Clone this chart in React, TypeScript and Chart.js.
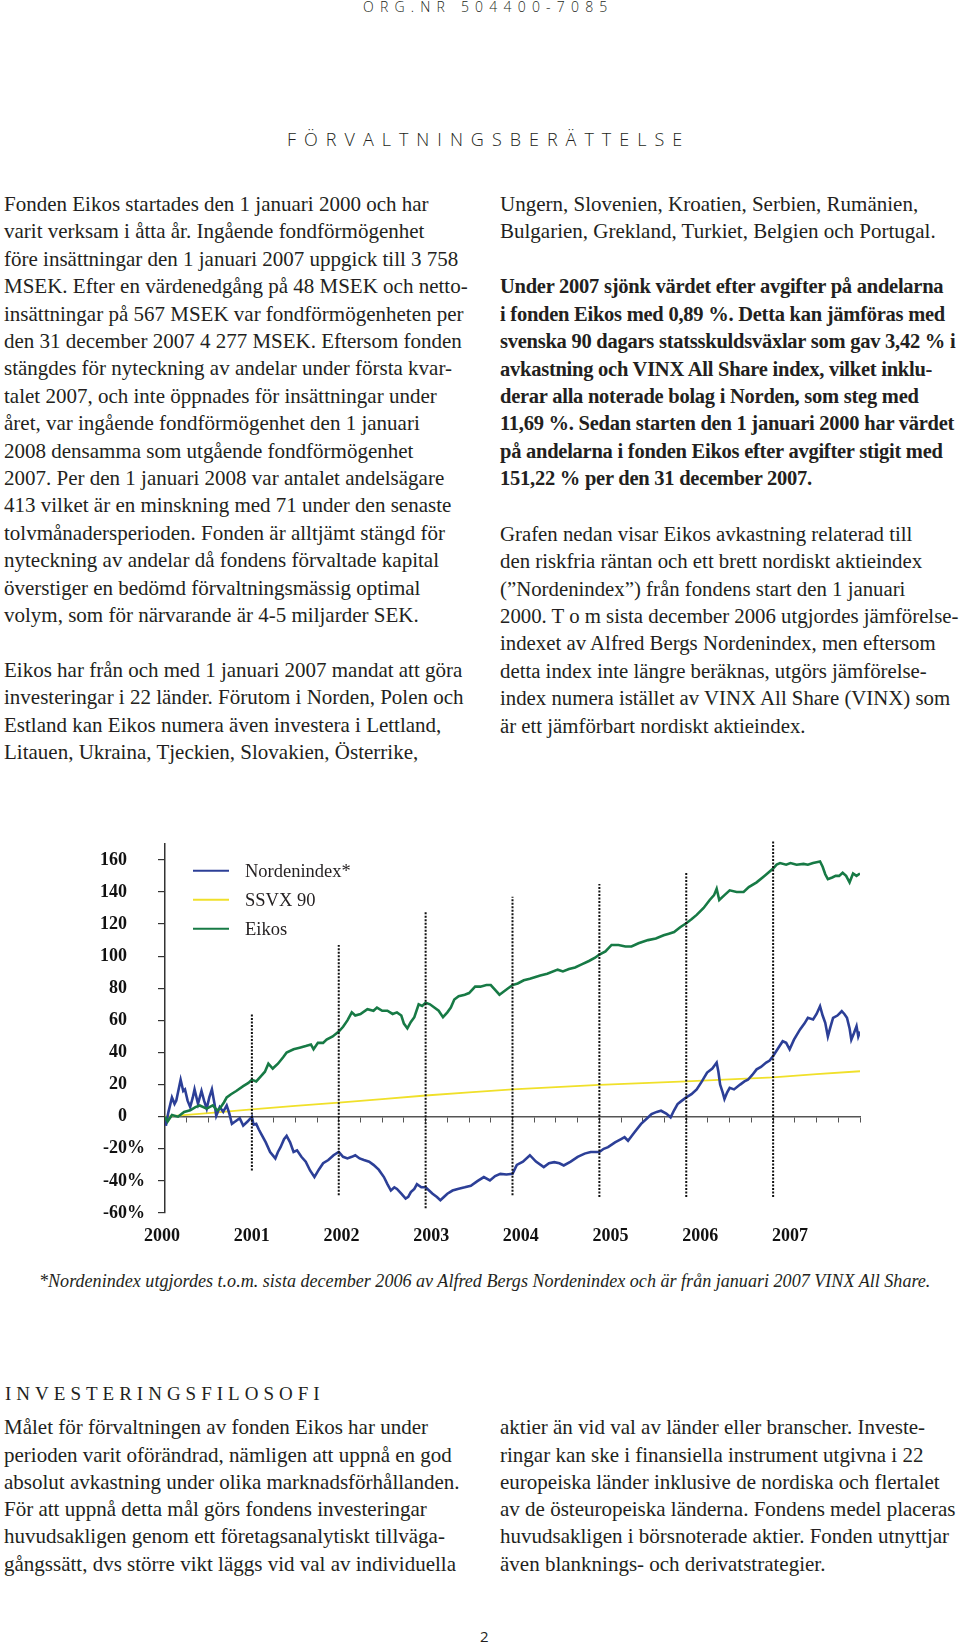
import React, { useEffect, useRef } from "react";
import { Chart, registerables } from "chart.js";

Chart.register(...registerables);

// ---------- chart data ----------
const eikosT = [2000.00, 2000.03, 2000.08, 2000.15, 2000.22, 2000.29, 2000.35, 2000.40, 2000.48, 2000.55, 2000.60, 2000.63, 2000.68, 2000.71, 2000.76, 2000.82, 2000.90, 2000.96,
  2001.00, 2001.05, 2001.10, 2001.15, 2001.19, 2001.24, 2001.30, 2001.36, 2001.40, 2001.48, 2001.55, 2001.62, 2001.68, 2001.71, 2001.76, 2001.82, 2001.86, 2001.93,
  2002.00, 2002.05, 2002.10, 2002.15, 2002.19, 2002.25, 2002.33, 2002.40, 2002.44, 2002.50, 2002.56, 2002.62, 2002.67, 2002.72, 2002.75, 2002.79, 2002.83, 2002.87, 2002.92, 2002.96,
  2003.00, 2003.05, 2003.10, 2003.15, 2003.20, 2003.25, 2003.29, 2003.33, 2003.38, 2003.45, 2003.50, 2003.57, 2003.63, 2003.70, 2003.75, 2003.80, 2003.85, 2003.90, 2003.95,
  2004.00, 2004.06, 2004.13, 2004.20, 2004.32, 2004.40, 2004.52, 2004.58, 2004.65, 2004.72, 2004.79, 2004.88, 2004.95,
  2005.00, 2005.07, 2005.14, 2005.22, 2005.30, 2005.37, 2005.45, 2005.56, 2005.65, 2005.74, 2005.80, 2005.86, 2005.93,
  2006.00, 2006.06, 2006.12, 2006.20, 2006.27, 2006.32, 2006.35, 2006.38, 2006.44, 2006.50, 2006.58, 2006.66, 2006.72, 2006.81, 2006.90,
  2007.00, 2007.04, 2007.08, 2007.15, 2007.20, 2007.27, 2007.35, 2007.40, 2007.46, 2007.50, 2007.54, 2007.57, 2007.60, 2007.63, 2007.68, 2007.72, 2007.76, 2007.80, 2007.84, 2007.88, 2007.92, 2007.96, 2008.00];
const eikosV = [0, -3, 1, 0, 3, 4, 6, 7, 5, 7, 4, 5, 9, 12, 14, 16, 19, 21,
  23, 22, 25, 28, 33, 30, 33, 37, 40, 42, 43, 44, 45, 42, 46, 46, 48, 50,
  53, 56, 60, 65, 63, 64, 67, 66, 68, 66, 66, 64, 65, 63, 58, 55, 59, 62, 70, 69,
  71, 70, 68, 66, 62, 65, 68, 73, 75, 76, 77, 81, 81, 82, 82, 79, 76, 78, 80,
  82, 83, 85, 86, 88, 89, 91.6, 90.5, 92, 93, 94.7, 97, 99,
  101, 103, 107, 107, 106, 106, 108, 110, 111, 113, 114, 115, 118,
  120.5, 123, 125.7, 130, 135, 138, 142, 135, 138, 141, 140, 140, 143, 146, 150,
  154.6, 157, 158, 157, 158, 157, 157.5, 157, 158, 158.5, 159, 155.7, 151, 148, 149, 150, 150, 152, 150, 146, 151.5, 150, 151.5];

const nordT = [2000.00, 2000.01, 2000.04, 2000.08, 2000.11, 2000.13, 2000.18, 2000.21, 2000.23, 2000.26, 2000.29, 2000.32, 2000.34, 2000.38, 2000.42, 2000.45, 2000.48, 2000.51, 2000.54, 2000.57, 2000.59, 2000.63, 2000.67, 2000.71, 2000.74, 2000.77, 2000.82, 2000.86, 2000.90, 2000.95,
  2001.00, 2001.02, 2001.05, 2001.08, 2001.11, 2001.16, 2001.21, 2001.27, 2001.30, 2001.33, 2001.37, 2001.40, 2001.44, 2001.48, 2001.52, 2001.57, 2001.62, 2001.67, 2001.72, 2001.77, 2001.82, 2001.88, 2001.94,
  2002.00, 2002.05, 2002.10, 2002.15, 2002.19, 2002.24, 2002.29, 2002.35, 2002.40, 2002.46, 2002.52, 2002.56, 2002.60, 2002.64, 2002.67, 2002.72, 2002.77, 2002.80, 2002.83, 2002.87, 2002.90, 2002.95,
  2003.00, 2003.04, 2003.08, 2003.13, 2003.17, 2003.21, 2003.25, 2003.31, 2003.37, 2003.45, 2003.52, 2003.60, 2003.67, 2003.74, 2003.80, 2003.86, 2003.93,
  2004.00, 2004.05, 2004.12, 2004.20, 2004.27, 2004.36, 2004.42, 2004.48, 2004.54, 2004.59, 2004.67, 2004.75, 2004.83, 2004.90,
  2005.00, 2005.05, 2005.10, 2005.18, 2005.25, 2005.29, 2005.33, 2005.40, 2005.48, 2005.55, 2005.60, 2005.66, 2005.71, 2005.77, 2005.82, 2005.86, 2005.90, 2005.95,
  2006.00, 2006.06, 2006.12, 2006.18, 2006.24, 2006.30, 2006.35, 2006.37, 2006.39, 2006.42, 2006.44, 2006.47, 2006.50, 2006.55, 2006.62, 2006.67, 2006.71, 2006.76, 2006.81, 2006.86, 2006.92, 2006.96,
  2007.00, 2007.05, 2007.11, 2007.15, 2007.19, 2007.24, 2007.31, 2007.36, 2007.40, 2007.46, 2007.50, 2007.54, 2007.57, 2007.60, 2007.63, 2007.66, 2007.69, 2007.74, 2007.79, 2007.82, 2007.85, 2007.88, 2007.90, 2007.93, 2007.96, 2007.98, 2008.00];
const nordV = [0, -5.6, 3, 12, 8, 10, 23, 16, 17, 10, 6, 12, 17, 8, 16, 10, 5, 12, 17, 8, 0.6, 6, 3, 7, 2, -4.5, -2.5, -1, -5.6, -3,
  0, -5, -4.5, -8, -11, -16, -22, -26, -22, -19, -14, -12, -16, -22, -21, -25, -28, -33.5, -37.6, -33, -29, -27, -24,
  -22, -25, -26, -25, -24, -26, -27, -28, -30, -33, -37.6, -42, -46, -44, -45, -48, -51, -50, -47, -45, -42, -44,
  -44, -46, -48, -50, -52, -50, -48, -46, -45, -44, -43, -40, -37.6, -39.7, -37, -35.6, -36,
  -35.6, -30, -28, -24, -28, -31.4, -29, -28.3, -29, -30.4, -28, -25, -23, -22,
  -22, -20, -19, -16, -14, -12.8, -15, -10, -4.5, -1, 1.6, 3, 3.7, 2, -0.4, 4, 7.9, 10,
  12, 14, 17, 22, 27.5, 30, 33.7, 28, 20, 15, 11, 15, 18, 17, 20, 22, 23, 26, 29.5, 31, 33.7, 35,
  37.8, 42, 47, 46, 42, 48, 54.4, 58, 61.6, 60.6, 64, 68.8, 63, 58.5, 50, 56, 61.6, 63, 65.7, 64, 61.6, 55, 48, 52, 56.4, 50, 53];

const ssvxT = [2000.0, 2000.5, 2001.0, 2001.5, 2002.0, 2002.5, 2003.0, 2003.5, 2004.0, 2004.5, 2005.0, 2005.5, 2006.0, 2006.5, 2007.0, 2007.5, 2008.0];
const ssvxV = [0, 2.2, 4.5, 6.7, 8.8, 11, 13.2, 15.2, 17, 18.4, 19.8, 20.9, 22, 23.2, 24.5, 26.5, 28.3];

const yearMarkers = [2001, 2002, 2003, 2004, 2005, 2006, 2007];
const markerTop = [64.5, 107, 128, 137, 145, 152.5, 172];
const markerBottom = [-33.5, -49, -57, -49, -50, -50, -50];

const yearLabels = [2000, 2001, 2002, 2003, 2004, 2005, 2006, 2007];
const yTicks = [160, 140, 120, 100, 80, 60, 40, 20, 0, -20, -40, -60];
const quarterTicks = [2000, 2000.25, 2000.5, 2000.75, 2001, 2001.25, 2001.5, 2001.75, 2002, 2002.25, 2002.5, 2002.75, 2003, 2003.25, 2003.5, 2003.75,
  2004, 2004.25, 2004.5, 2004.75, 2005, 2005.25, 2005.5, 2005.75, 2006, 2006.25, 2006.5, 2006.75, 2007, 2007.25, 2007.5, 2007.75, 2008];

const seriesNames = ["Nordenindex*", "SSVX 90", "Eikos"];
const seriesColors = ["#2c3f97", "#f0e02a", "#177a45"];

// ---------- page text ----------
const leftPara1 = [
  "Fonden Eikos startades den 1 januari 2000 och har",
  "varit verksam i åtta år. Ingående fondförmögenhet",
  "före insättningar den 1 januari 2007 uppgick till 3 758",
  "MSEK. Efter en värdenedgång på 48 MSEK och netto-",
  "insättningar på 567 MSEK var fondförmögenheten per",
  "den 31 december 2007 4 277 MSEK. Eftersom fonden",
  "stängdes för nyteckning av andelar under första kvar-",
  "talet 2007, och inte öppnades för insättningar under",
  "året, var ingående fondförmögenhet den 1 januari",
  "2008 densamma som utgående fondförmögenhet",
  "2007. Per den 1 januari 2008 var antalet andelsägare",
  "413 vilket är en minskning med 71 under den senaste",
  "tolvmånadersperioden. Fonden är alltjämt stängd för",
  "nyteckning av andelar då fondens förvaltade kapital",
  "överstiger en bedömd förvaltningsmässig optimal",
  "volym, som för närvarande är 4-5 miljarder SEK.",
];
const leftPara2 = [
  "Eikos har från och med 1 januari 2007 mandat att göra",
  "investeringar i 22 länder. Förutom i Norden, Polen och",
  "Estland kan Eikos numera även investera i Lettland,",
  "Litauen, Ukraina, Tjeckien, Slovakien, Österrike,",
];
const rightPara1 = [
  "Ungern, Slovenien, Kroatien, Serbien, Rumänien,",
  "Bulgarien, Grekland, Turkiet, Belgien och Portugal.",
];
const rightBold = [
  "Under 2007 sjönk värdet efter avgifter på andelarna",
  "i fonden Eikos med 0,89 %. Detta kan jämföras med",
  "svenska 90 dagars statsskuldsväxlar som gav 3,42 % i",
  "avkastning och VINX All Share index, vilket inklu-",
  "derar alla noterade bolag i Norden, som steg med",
  "11,69 %. Sedan starten den 1 januari 2000 har värdet",
  "på andelarna i fonden Eikos efter avgifter stigit med",
  "151,22 % per den 31 december 2007.",
];
const rightPara3 = [
  "Grafen nedan visar Eikos avkastning relaterad till",
  "den riskfria räntan och ett brett nordiskt aktieindex",
  "(”Nordenindex”) från fondens start den 1 januari",
  "2000. T o m sista december 2006 utgjordes jämförelse-",
  "indexet av Alfred Bergs Nordenindex, men eftersom",
  "detta index inte längre beräknas, utgörs jämförelse-",
  "index numera istället av VINX All Share (VINX) som",
  "är ett jämförbart nordiskt aktieindex.",
];
const footnote = "*Nordenindex utgjordes t.o.m. sista december 2006 av Alfred Bergs Nordenindex och är från januari 2007 VINX All Share.";
const bottomLeft = [
  "Målet för förvaltningen av fonden Eikos har under",
  "perioden varit oförändrad, nämligen att uppnå en god",
  "absolut avkastning under olika marknadsförhållanden.",
  "För att uppnå detta mål görs fondens investeringar",
  "huvudsakligen genom ett företagsanalytiskt tillväga-",
  "gångssätt, dvs större vikt läggs vid val av individuella",
];
const bottomRight = [
  "aktier än vid val av länder eller branscher. Investe-",
  "ringar kan ske i finansiella instrument utgivna i 22",
  "europeiska länder inklusive de nordiska och flertalet",
  "av de östeuropeiska länderna. Fondens medel placeras",
  "huvudsakligen i börsnoterade aktier. Fonden utnyttjar",
  "även blanknings- och derivatstrategier.",
];

const SERIF = '"Liberation Serif", "Times New Roman", serif';
const SANS = '"Open Sans", "Noto Sans", sans-serif';
const TEXT = "#231f20";

function topFor(baseline: number, size: number, lh: number) {
  return baseline - ((lh - 1.107 * size) / 2 + 0.891 * size);
}

function Lines(props: { x: number; baseline: number; lines: string[]; size?: number; lh?: number; bold?: boolean; italic?: boolean; spacing?: number }) {
  const size = props.size ?? 21;
  const lh = props.lh ?? 27.4;
  return (
    <div
      style={{
        position: "absolute",
        left: props.x,
        top: topFor(props.baseline, size, lh),
        fontFamily: SERIF,
        fontSize: size,
        lineHeight: `${lh}px`,
        fontWeight: props.bold ? 700 : 400,
        fontStyle: props.italic ? "italic" : "normal",
        letterSpacing: props.spacing ?? 0,
        whiteSpace: "pre",
        color: TEXT,
      }}
    >
      {props.lines.map((l, i) => (
        <div key={i}>{l}</div>
      ))}
    </div>
  );
}

const legendPlugin = {
  id: "customLegend",
  afterDraw(chart: any) {
    const { ctx, chartArea } = chart;
    ctx.save();
    seriesNames.forEach((name, i) => {
      const y = chartArea.top + 27 + i * 29;
      ctx.strokeStyle = seriesColors[i];
      ctx.lineWidth = 2;
      ctx.beginPath();
      ctx.moveTo(chartArea.left + 28, y);
      ctx.lineTo(chartArea.left + 64, y);
      ctx.stroke();
      ctx.fillStyle = "#231f20";
      ctx.font = '18.5px "Liberation Serif"';
      ctx.textBaseline = "middle";
      ctx.textAlign = "left";
      ctx.fillText(name, chartArea.left + 80, y + 1);
    });
    ctx.restore();
  },
};

function EikosChart() {
  const ref = useRef<HTMLCanvasElement>(null);
  useEffect(() => {
    if (!ref.current) return;
    const toPts = (t: number[], v: number[]) => t.map((x, i) => ({ x, y: v[i] }));
    const markerSets = yearMarkers.map((yr, i) => ({
      label: "m" + yr,
      data: [{ x: yr, y: markerBottom[i] }, { x: yr, y: markerTop[i] }],
      borderColor: "#111",
      borderWidth: 2,
      borderDash: [2, 1.5],
      pointRadius: 0,
      clip: false,
      xAxisID: "x",
      yAxisID: "y",
    }));
    const chart = new Chart(ref.current, {
      type: "line",
      data: {
        datasets: [
          ...markerSets,
          { label: seriesNames[2], data: toPts(eikosT, eikosV), borderColor: seriesColors[2], borderWidth: 2.6, pointRadius: 0, tension: 0, xAxisID: "x", yAxisID: "y" },
          { label: seriesNames[0], data: toPts(nordT, nordV), borderColor: seriesColors[0], borderWidth: 2.6, pointRadius: 0, tension: 0, xAxisID: "x", yAxisID: "y" },
          { label: seriesNames[1], data: toPts(ssvxT, ssvxV), borderColor: seriesColors[1], borderWidth: 1.8, pointRadius: 0, tension: 0, xAxisID: "x", yAxisID: "y" },
        ] as any,
      },
      options: {
        animation: false,
        responsive: false,
        events: [],
        layout: { padding: { top: 22, right: 100, bottom: 17, left: 0 } },
        plugins: { legend: { display: false }, tooltip: { enabled: false } },
        scales: {
          x: {
            type: "linear",
            min: 2000,
            max: 2008,
            position: { y: 0 } as any,
            afterBuildTicks: (s: any) => { s.ticks = quarterTicks.map((v) => ({ value: v })); },
            ticks: { display: false },
            grid: { display: true, drawOnChartArea: false, drawTicks: true, tickLength: 5, color: "#555", lineWidth: 1 },
            border: { display: true, color: "#555", width: 1.5 },
          },
          x2: {
            type: "linear",
            position: "bottom",
            min: 2000.0334,
            max: 2007.7805,
            afterBuildTicks: (s: any) => { s.ticks = yearLabels.map((v) => ({ value: v })); },
            afterFit: (s: any) => { s.height = 40; },
            ticks: {
              autoSkip: false,
              maxRotation: 0,
              padding: 5,
              color: "#111",
              font: { family: "Liberation Serif", size: 18, weight: "bold" },
              callback: (v: any) => String(v),
            },
            grid: { display: false },
            border: { display: false },
          },
          y: {
            type: "linear",
            position: "left",
            min: -60,
            max: 170,
            afterBuildTicks: (s: any) => { s.ticks = yTicks.map((v) => ({ value: v })); },
            afterFit: (s: any) => { s.width = 165; },
            ticks: {
              padding: 13,
              color: "#111",
              font: { family: "Liberation Serif", size: 18, weight: "bold" },
              callback: (v: any) => (v < 0 ? `${v}%` : `${v}\u2003`),
            },
            grid: { display: true, drawOnChartArea: false, drawTicks: true, tickLength: 7, color: "#333", lineWidth: 1.2 },
            border: { display: true, color: "#333", width: 1.5 },
          },
        },
      } as any,
      plugins: [legendPlugin],
    });
    return () => chart.destroy();
  }, []);
  return (
    <canvas
      ref={ref}
      width={960}
      height={450}
      style={{ position: "absolute", left: 0, top: 820, width: 960, height: 450, display: "block" }}
    />
  );
}

export default function App() {
  const base = 211.7;
  const step = 27.4;
  return (
    <div style={{ position: "absolute", left: 0, top: 0, width: 960, height: 1647, background: "#fff", overflow: "hidden" }}>
      <div
        style={{
          position: "absolute",
          left: 363,
          top: topFor(11.5, 14, 18),
          fontFamily: SANS,
          fontWeight: 300,
          fontSize: 14,
          lineHeight: "18px",
          letterSpacing: 6.2,
          whiteSpace: "pre",
          color: TEXT,
        }}
      >
        ORG.NR 504400-7085
      </div>
      <div
        style={{
          position: "absolute",
          left: 287,
          top: 150 - 18 - 5.5,
          fontFamily: SANS,
          fontWeight: 300,
          fontSize: 18,
          lineHeight: "24px",
          letterSpacing: 8.0,
          whiteSpace: "pre",
          color: TEXT,
        }}
      >
        FÖRVALTNINGSBERÄTTELSE
      </div>

      <Lines x={4} baseline={base} lines={leftPara1} />
      <Lines x={4} baseline={base + 17 * step} lines={leftPara2} />
      <Lines x={500} baseline={base} lines={rightPara1} />
      <Lines x={500} baseline={base + 3 * step} lines={rightBold} bold size={20.5} spacing={-0.25} />
      <Lines x={500} baseline={base + 12 * step} lines={rightPara3} size={20.8} />

      <EikosChart />

      <Lines x={39} baseline={1287} lines={[footnote]} size={18.1} lh={22} italic />

      <Lines x={5} baseline={1400} lines={["INVESTERINGSFILOSOFI"]} size={19} lh={24} spacing={5} />
      <Lines x={4} baseline={1435} lines={bottomLeft} lh={27.3} />
      <Lines x={500} baseline={1435} lines={bottomRight} lh={27.3} />

      <div
        style={{
          position: "absolute",
          left: 480,
          top: 1626,
          fontFamily: SANS,
          fontSize: 15,
          lineHeight: "20px",
          color: TEXT,
        }}
      >
        2
      </div>
    </div>
  );
}
